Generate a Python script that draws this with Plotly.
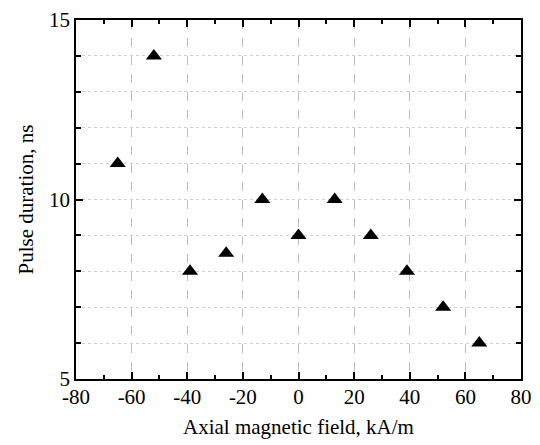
import plotly.graph_objects as go

field = [-65, -52, -39, -26, -13, 0, 13, 26, 39, 52, 65]
duration = [11, 14, 8, 8.5, 10, 9, 10, 9, 8, 7, 6]

x_tickvals = [-80, -60, -40, -20, 0, 20, 40, 60, 80]
x_ticktext = ["-80", "-60", "-40", "-20", "0", "20", "40", "60", "80"]
y_tickvals = [5, 10, 15]
y_ticktext = ["5", "10", "15"]

font = "Liberation Serif, Times New Roman, Times, DejaVu Serif, serif"

fig = go.Figure()
fig.add_trace(go.Scatter(
    x=field, y=duration, mode="markers",
    marker=dict(symbol="triangle-up", size=14, color="black"),
    showlegend=False,
))

fig.update_layout(
    width=540, height=445,
    margin=dict(l=76, r=19, t=20, b=66, autoexpand=False),
    paper_bgcolor="white", plot_bgcolor="white",
    font=dict(family=font, size=21, color="black"),
)
fig.update_xaxes(
    range=[-80, 80], tickmode="array", tickvals=x_tickvals, ticktext=x_ticktext,
    showline=True, linecolor="black", linewidth=1.8, mirror="ticks",
    ticks="inside", ticklen=7, tickwidth=1.6, tickcolor="black",
    showgrid=True, gridcolor="#bdbdbd", griddash="dash", gridwidth=1,
    zeroline=False, automargin=False,
    minor=dict(dtick=10, tick0=0, ticks="inside", ticklen=4, tickwidth=1.6, tickcolor="black", showgrid=False),
    tickfont=dict(family=font, size=21),
    ticklabelstandoff=-2,
    title=dict(text="Axial magnetic field, kA/m", font=dict(family=font, size=21), standoff=11),
)
fig.update_yaxes(
    range=[5, 15], tickmode="array", tickvals=y_tickvals, ticktext=y_ticktext,
    showline=True, linecolor="black", linewidth=1.8, mirror="ticks",
    ticks="inside", ticklen=7, tickwidth=1.6, tickcolor="black",
    showgrid=True, gridcolor="#cfcfcf", griddash="dot", gridwidth=1,
    zeroline=False, automargin=False,
    minor=dict(dtick=1, tick0=0, ticks="inside", ticklen=5, tickwidth=1.6, tickcolor="black",
               showgrid=True, gridcolor="#cfcfcf", griddash="dot", gridwidth=1),
    tickfont=dict(family=font, size=21),
    title=dict(text="Pulse duration, ns", font=dict(family=font, size=21), standoff=10),
)

fig.write_html("out.html")
